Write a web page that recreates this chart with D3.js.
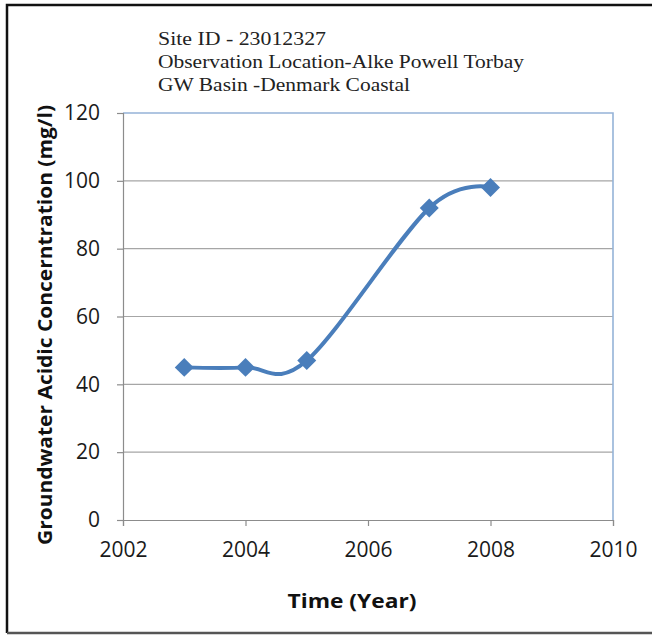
<!DOCTYPE html>
<html>
<head>
<meta charset="utf-8">
<script src="https://cdn.jsdelivr.net/npm/d3@7"></script>
<style>
html,body{margin:0;padding:0;background:#fff;}
svg{display:block;}
</style>
</head>
<body>
<svg id="chart" width="652" height="635"></svg>
<script>
const years = [2003, 2004, 2005, 2007, 2008];
const values = [45, 45, 47, 92, 98];
const xTicks = [2002, 2004, 2006, 2008, 2010];
const yTicks = [0, 20, 40, 60, 80, 100, 120];
const headerLines = ["Site ID - 23012327", "Observation Location-Alke Powell Torbay", "GW Basin -Denmark Coastal"];
const headerWidths = [168, 366, 252];
const xTitle = "Time (Year)";
const yTitle = "Groundwater Acidic Concerntration (mg/l)";

const svg = d3.select("#chart");
const W = 652, H = 635;
const m = {left: 123, right: 613, top: 113, bottom: 520};
const sans = "'Open Sans', Lato, sans-serif";

// outer frame
svg.append("rect").attr("x", 0).attr("y", 0).attr("width", W).attr("height", H).attr("fill", "#fff");
svg.append("path").attr("d", `M7,${H-2} V5 H${W}`).attr("fill", "none").attr("stroke", "#111").attr("stroke-width", 2.5);
svg.append("line").attr("x1", 7).attr("x2", W).attr("y1", H-2).attr("y2", H-2).attr("stroke", "#555").attr("stroke-width", 2.5);

const x = d3.scaleLinear().domain([2002, 2010]).range([m.left, m.right]);
const y = d3.scaleLinear().domain([0, 120]).range([m.bottom, m.top]);

// gridlines
svg.append("g").selectAll("line").data(yTicks.filter(d => d > 0 && d < 120)).join("line")
  .attr("x1", m.left).attr("x2", m.right)
  .attr("y1", d => y(d)).attr("y2", d => y(d))
  .attr("stroke", "#a6a6a6").attr("stroke-width", 1.2);

// plot border top/right (blue)
svg.append("path").attr("d", `M${m.left},${m.top} H${m.right} V${m.bottom}`)
  .attr("fill", "none").attr("stroke", "#95b3d7").attr("stroke-width", 1.6);

// y axis
const yAxis = d3.axisLeft(y).tickValues(yTicks).tickSize(6).tickPadding(17).tickFormat(d3.format("d"));
const gy = svg.append("g").attr("transform", `translate(${m.left},0)`).call(yAxis);
gy.select(".domain").attr("stroke", "#8c8c8c").attr("stroke-width", 1.2);
gy.selectAll(".tick line").attr("stroke", "#8c8c8c").attr("stroke-width", 1.2);
gy.selectAll(".tick text").attr("font-family", sans).attr("font-size", 21).attr("fill", "#1a1a1a");

// x axis
const xAxis = d3.axisBottom(x).tickValues(xTicks).tickSize(6).tickPadding(16).tickFormat(d3.format("d"));
const gx = svg.append("g").attr("transform", `translate(0,${m.bottom})`).call(xAxis);
gx.select(".domain").attr("stroke", "#8c8c8c").attr("stroke-width", 1.2);
gx.selectAll(".tick line").attr("stroke", "#8c8c8c").attr("stroke-width", 1.2);
gx.selectAll(".tick text").attr("font-family", sans).attr("font-size", 21).attr("fill", "#1a1a1a");

// series
const pts = years.map((yr, i) => [yr, values[i]]);
const line = d3.line().x(d => x(d[0])).y(d => y(d[1])).curve(d3.curveCardinal.tension(0));
svg.append("path").datum(pts).attr("d", line)
  .attr("fill", "none").attr("stroke", "#4a7ebb").attr("stroke-width", 4);

svg.append("g").selectAll("path").data(pts).join("path")
  .attr("transform", d => `translate(${x(d[0])},${y(d[1])})`)
  .attr("d", d3.symbol(d3.symbolDiamond2 || d3.symbolSquare, 230)())
  .attr("fill", "#4a7ebb");

// header text
svg.append("g").selectAll("text").data(headerLines).join("text")
  .attr("x", 158).attr("y", (d, i) => 45 + i * 23)
  .attr("font-family", "'Liberation Serif', 'Times New Roman', serif").attr("font-size", 19.5).attr("fill", "#222")
  .attr("textLength", (d, i) => headerWidths[i]).attr("lengthAdjust", "spacingAndGlyphs")
  .text(d => d);

// axis titles
svg.append("text").attr("x", 352).attr("y", 608)
  .attr("text-anchor", "middle").attr("font-family", sans).attr("font-weight", "bold")
  .attr("font-size", 20).attr("fill", "#111")
  .attr("textLength", 129).attr("lengthAdjust", "spacingAndGlyphs").text(xTitle);

svg.append("text").attr("transform", `translate(52,325) rotate(-90)`)
  .attr("text-anchor", "middle").attr("font-family", sans).attr("font-weight", "bold")
  .attr("font-size", 20).attr("fill", "#111")
  .attr("textLength", 440).attr("lengthAdjust", "spacingAndGlyphs").text(yTitle);
</script>
</body>
</html>
